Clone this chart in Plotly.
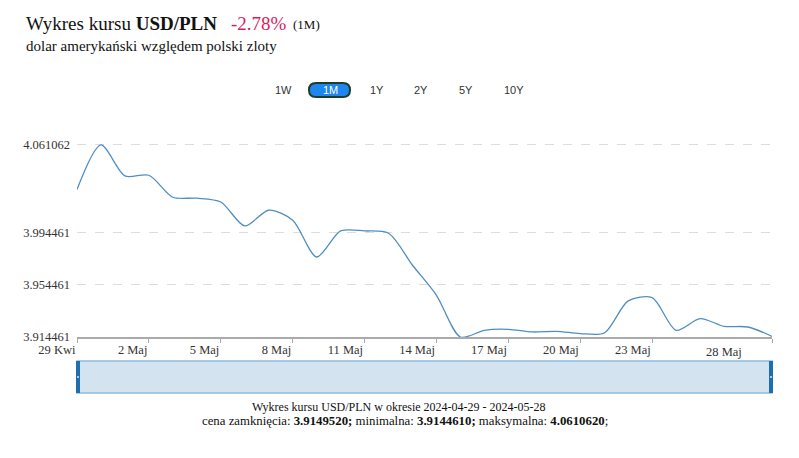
import plotly.graph_objects as go

dates = ["2024-04-29", "2024-04-30", "2024-05-01", "2024-05-02", "2024-05-03", "2024-05-04",
         "2024-05-05", "2024-05-06", "2024-05-07", "2024-05-08", "2024-05-09", "2024-05-10",
         "2024-05-11", "2024-05-12", "2024-05-13", "2024-05-14", "2024-05-15", "2024-05-16",
         "2024-05-17", "2024-05-18", "2024-05-19", "2024-05-20", "2024-05-21", "2024-05-22",
         "2024-05-23", "2024-05-24", "2024-05-25", "2024-05-26", "2024-05-27", "2024-05-28"]
rates = [4.0270, 4.061062, 4.0374, 4.0379, 4.0211, 4.0204,
         4.0175, 3.9992, 4.0112, 4.0036, 3.9755, 3.9954,
         3.9954, 3.9936, 3.9692, 3.9463, 3.914461, 3.9196,
         3.9203, 3.9183, 3.9188, 3.9171, 3.9175, 3.9420,
         3.9445, 3.9196, 3.9285, 3.9226, 3.9221, 3.914952]

y_ticks = [3.914461, 3.954461, 3.994461, 4.061062]
y_tick_labels = ["3.914461", "3.954461", "3.994461", "4.061062"]
x_ticks = ["2024-04-29", "2024-05-02", "2024-05-05", "2024-05-08", "2024-05-11",
           "2024-05-14", "2024-05-17", "2024-05-20", "2024-05-23", "2024-05-28"]
x_tick_labels = ["29 Kwi", "2 Maj", "5 Maj", "8 Maj", "11 Maj", "14 Maj", "17 Maj", "20 Maj", "23 Maj", ""]
last_label = "28 Maj"
buttons = ["1W", "1M", "1Y", "2Y", "5Y", "10Y"]
active_button = "1M"

# page body has an 8px margin; compensate so the figure lands where the reference is
OFF = 8
W, H = 799 - OFF, 458 - OFF
ML, MR, MT, MB = 77 - OFF, 27, 143 - OFF, 121
PW, PH = W - ML - MR, H - MT - MB

def px(x):
    return (x - OFF - ML) / PW

def py(y):
    return (H - MB - (y - OFF)) / PH

SERIF = "Liberation Serif, DejaVu Serif, serif"
SANS = "Liberation Sans, Arial, sans-serif"

fig = go.Figure()
fig.add_trace(go.Scatter(
    x=dates, y=rates, mode="lines",
    line=dict(color="#4f8fc0", width=1.3, shape="spline", smoothing=0.8),
    cliponaxis=False, hoverinfo="x+y", showlegend=False,
))

fig.update_layout(
    width=W, height=H,
    margin=dict(l=ML, r=MR, t=MT, b=MB),
    paper_bgcolor="white", plot_bgcolor="white",
    font=dict(family=SERIF, size=12, color="#333333"),
    xaxis=dict(
        type="date", range=["2024-04-29", "2024-05-28"],
        tickvals=x_ticks, ticktext=x_tick_labels,
        ticklabelposition="outside left",
        showgrid=False, zeroline=False,
        showline=True, linecolor="#aaaaaa", linewidth=2,
        ticks="outside", ticklen=4, tickcolor="#aaaaaa",
        tickfont=dict(family=SERIF, size=12.5, color="#333333"),
    ),
    yaxis=dict(
        range=[3.914461, 4.0625],
        tickvals=y_ticks, ticktext=y_tick_labels,
        showgrid=True, gridcolor="#dddddd", griddash="dash", gridwidth=1,
        zeroline=False, showline=False, ticks="", ticklabelstandoff=6,
        tickfont=dict(family=SERIF, size=12.5, color="#333333"),
    ),
)

ann = []
ann.append(dict(x=px(24), y=py(24), xref="paper", yref="paper", xanchor="left", yanchor="middle",
                text="Wykres kursu <b>USD/PLN</b>", showarrow=False,
                font=dict(family=SERIF, size=19, color="#111111")))
ann.append(dict(x=px(229), y=py(24), xref="paper", yref="paper", xanchor="left", yanchor="middle",
                text="-2.78%", showarrow=False,
                font=dict(family=SERIF, size=19, color="#d81b60")))
ann.append(dict(x=px(291), y=py(25), xref="paper", yref="paper", xanchor="left", yanchor="middle",
                text="(1M)", showarrow=False,
                font=dict(family=SERIF, size=13, color="#111111")))
ann.append(dict(x=px(24), y=py(46), xref="paper", yref="paper", xanchor="left", yanchor="middle",
                text="dolar amerykański względem polski zloty", showarrow=False,
                font=dict(family=SERIF, size=15, color="#111111")))

btn_x = [283, 330, 377, 421, 466, 514]
for b, bx in zip(buttons, btn_x):
    ann.append(dict(x=px(bx), y=py(90), xref="paper", yref="paper", xanchor="center", yanchor="middle",
                    text=b, showarrow=False,
                    font=dict(family=SANS, size=11, color="white" if b == active_button else "#333333")))

ann.append(dict(x=px(744), y=py(352), xref="paper", yref="paper", xanchor="right", yanchor="middle",
                text=last_label, showarrow=False, font=dict(family=SERIF, size=12.5, color="#333333")))

ann.append(dict(x=px(399), y=py(407), xref="paper", yref="paper", xanchor="center", yanchor="middle",
                text="Wykres kursu USD/PLN w okresie 2024-04-29 - 2024-05-28", showarrow=False,
                font=dict(family=SERIF, size=12, color="#111111")))
ann.append(dict(x=px(405), y=py(421), xref="paper", yref="paper", xanchor="center", yanchor="middle",
                text="cena zamknięcia: <b>3.9149520;</b> minimalna: <b>3.9144610;</b> maksymalna: <b>4.0610620</b>;",
                showarrow=False, font=dict(family=SERIF, size=12.8, color="#111111")))
fig.update_layout(annotations=ann)

shapes = []
x0, x1, y0, y1 = 309, 350, 83, 97
r = 7
def P(x, y):
    return f"{px(x):.5f},{py(y):.5f}"
path = (f"M {P(x0 + r, y0)} L {P(x1 - r, y0)} "
        f"Q {P(x1, y0)} {P(x1, (y0 + y1) / 2)} Q {P(x1, y1)} {P(x1 - r, y1)} "
        f"L {P(x0 + r, y1)} Q {P(x0, y1)} {P(x0, (y0 + y1) / 2)} Q {P(x0, y0)} {P(x0 + r, y0)} Z")
shapes.append(dict(type="path", xref="paper", yref="paper", path=path,
                   fillcolor="#1e86ee", line=dict(color="#1f3d2a", width=2), layer="below"))
shapes.append(dict(type="rect", xref="paper", yref="paper",
                   x0=px(77), x1=px(772), y0=py(393), y1=py(361),
                   fillcolor="#d3e4f0", line=dict(color="#8dbbe0", width=1.5), layer="below"))
shapes.append(dict(type="rect", xref="paper", yref="paper",
                   x0=px(76), x1=px(80), y0=py(393), y1=py(361),
                   fillcolor="#1f6fae", line=dict(width=0)))
shapes.append(dict(type="rect", xref="paper", yref="paper",
                   x0=px(769), x1=px(773), y0=py(393), y1=py(361),
                   fillcolor="#1f6fae", line=dict(width=0)))
shapes.append(dict(type="rect", xref="paper", yref="paper",
                   x0=px(77), x1=px(79), y0=py(378), y1=py(376),
                   fillcolor="#a9c8e2", line=dict(width=0)))
shapes.append(dict(type="rect", xref="paper", yref="paper",
                   x0=px(770), x1=px(772), y0=py(378), y1=py(376),
                   fillcolor="#a9c8e2", line=dict(width=0)))
fig.update_layout(shapes=shapes)

fig.write_html("out.html")
